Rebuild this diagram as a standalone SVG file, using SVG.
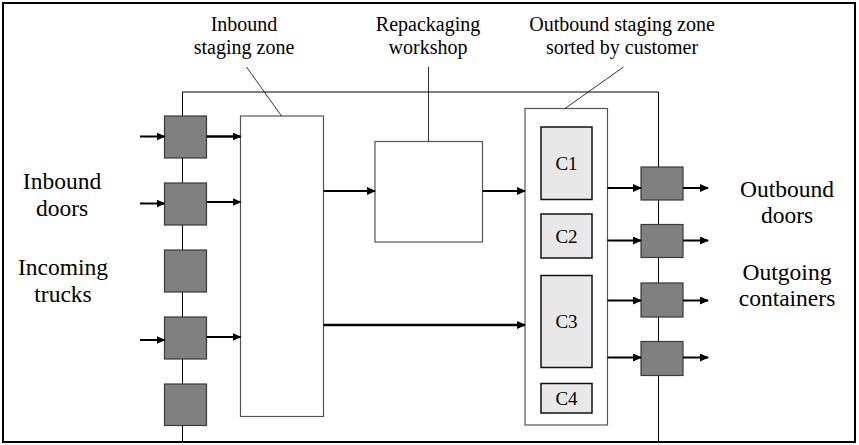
<svg xmlns="http://www.w3.org/2000/svg" width="859" height="445" viewBox="0 0 859 445">
<defs>
<marker id="ah" markerWidth="10" markerHeight="10" refX="8" refY="4" orient="auto" markerUnits="userSpaceOnUse">
<path d="M0,0 L9,4 L0,8 z" fill="#000"/>
</marker>
<style>
.lbl{font-family:"Liberation Serif","Times New Roman",serif;font-size:20px;fill:#000;text-anchor:middle}
.big{font-family:"Liberation Serif","Times New Roman",serif;font-size:23.5px;fill:#000;text-anchor:middle}
.cl{font-family:"Liberation Serif","Times New Roman",serif;font-size:19px;fill:#000;text-anchor:middle}
.door{fill:#808080;stroke:#3a3a3a;stroke-width:1.2}
.zone{fill:#fff;stroke:#555;stroke-width:1.2}
.cbox{fill:#e8e8e8;stroke:#111;stroke-width:1.5}
.wall{fill:none;stroke:#000;stroke-width:1}
.lead{fill:none;stroke:#000;stroke-width:0.8}
.arr{stroke:#000;stroke-width:2;marker-end:url(#ah)}
</style>
</defs>
<rect x="0" y="0" width="859" height="445" fill="#fff"/>
<rect x="3" y="3" width="852" height="439" fill="none" stroke="#000" stroke-width="2"/>
<g id="building">
<path class="wall" d="M182.5,442 V92 H658.5 V442"/>
</g>
<g id="inbound-staging">
<rect class="zone" x="240.5" y="116" width="83" height="300.5"/>
<line class="lead" x1="246.5" y1="67" x2="281.5" y2="116"/>
<text class="lbl" x="244" y="31">Inbound</text>
<text class="lbl" x="244" y="54">staging zone</text>
</g>
<g id="repackaging">
<rect class="zone" x="375" y="141.5" width="107.5" height="100.5"/>
<line class="lead" x1="428.5" y1="67" x2="428.5" y2="141.5"/>
<text class="lbl" x="428" y="31">Repackaging</text>
<text class="lbl" x="428" y="54">workshop</text>
</g>
<g id="outbound-staging">
<rect class="zone" x="525" y="108.5" width="82.5" height="316.5"/>
<line class="lead" x1="623.5" y1="67" x2="565" y2="108.5"/>
<text class="lbl" x="622" y="31">Outbound staging zone</text>
<text class="lbl" x="622" y="54">sorted by customer</text>
</g>
<g id="c1"><rect class="cbox" x="541" y="127" width="51" height="72.5"/><text class="cl" x="566.5" y="170">C1</text></g>
<g id="c2"><rect class="cbox" x="541" y="214" width="51" height="44"/><text class="cl" x="566.5" y="243">C2</text></g>
<g id="c3"><rect class="cbox" x="541" y="275.5" width="51" height="92"/><text class="cl" x="566.5" y="328">C3</text></g>
<g id="c4"><rect class="cbox" x="541" y="383.5" width="51" height="29.5"/><text class="cl" x="566.5" y="405">C4</text></g>
<g id="inbound-doors">
<rect class="door" x="164.5" y="116" width="42" height="42"/>
<rect class="door" x="164.5" y="183" width="42" height="42"/>
<rect class="door" x="164.5" y="250" width="42" height="42"/>
<rect class="door" x="164.5" y="317" width="42" height="42"/>
<rect class="door" x="164.5" y="384" width="42" height="41.5"/>
</g>
<g id="outbound-doors">
<rect class="door" x="641" y="167" width="42" height="33"/>
<rect class="door" x="641" y="224.5" width="42" height="33"/>
<rect class="door" x="641" y="283" width="42" height="34"/>
<rect class="door" x="641" y="341.5" width="42" height="34"/>
</g>
<g id="connectors">
<line class="arr" x1="140" y1="136.5" x2="164.5" y2="136.5"/>
<line class="arr" x1="140" y1="203.5" x2="164.5" y2="203.5"/>
<line class="arr" x1="140" y1="340" x2="164.5" y2="340"/>
<line class="arr" x1="206.5" y1="136.5" x2="240.5" y2="136.5" style="stroke-width:2.5"/>
<line class="arr" x1="206.5" y1="202" x2="240.5" y2="202"/>
<line class="arr" x1="206.5" y1="337" x2="240.5" y2="337"/>
<line class="arr" x1="323.5" y1="191" x2="375" y2="191"/>
<line class="arr" x1="482.5" y1="191" x2="525" y2="191"/>
<line class="arr" x1="323.5" y1="325" x2="525" y2="325" style="stroke-width:2.5"/>
<line class="arr" x1="607.5" y1="188" x2="641" y2="188"/>
<line class="arr" x1="607.5" y1="240.5" x2="641" y2="240.5"/>
<line class="arr" x1="607.5" y1="300.5" x2="641" y2="300.5"/>
<line class="arr" x1="607.5" y1="357.5" x2="641" y2="357.5"/>
<line class="arr" x1="683" y1="188" x2="708" y2="188"/>
<line class="arr" x1="683" y1="240.5" x2="708" y2="240.5"/>
<line class="arr" x1="683" y1="300.5" x2="708" y2="300.5"/>
<line class="arr" x1="683" y1="357.5" x2="708" y2="357.5"/>
</g>
<g id="labels">
<text class="big" x="62" y="189">Inbound</text>
<text class="big" x="62" y="216">doors</text>
<text class="big" x="63" y="275">Incoming</text>
<text class="big" x="63" y="302">trucks</text>
<text class="big" x="787" y="197">Outbound</text>
<text class="big" x="787" y="223">doors</text>
<text class="big" x="787" y="280">Outgoing</text>
<text class="big" x="787" y="306">containers</text>
</g>
</svg>
